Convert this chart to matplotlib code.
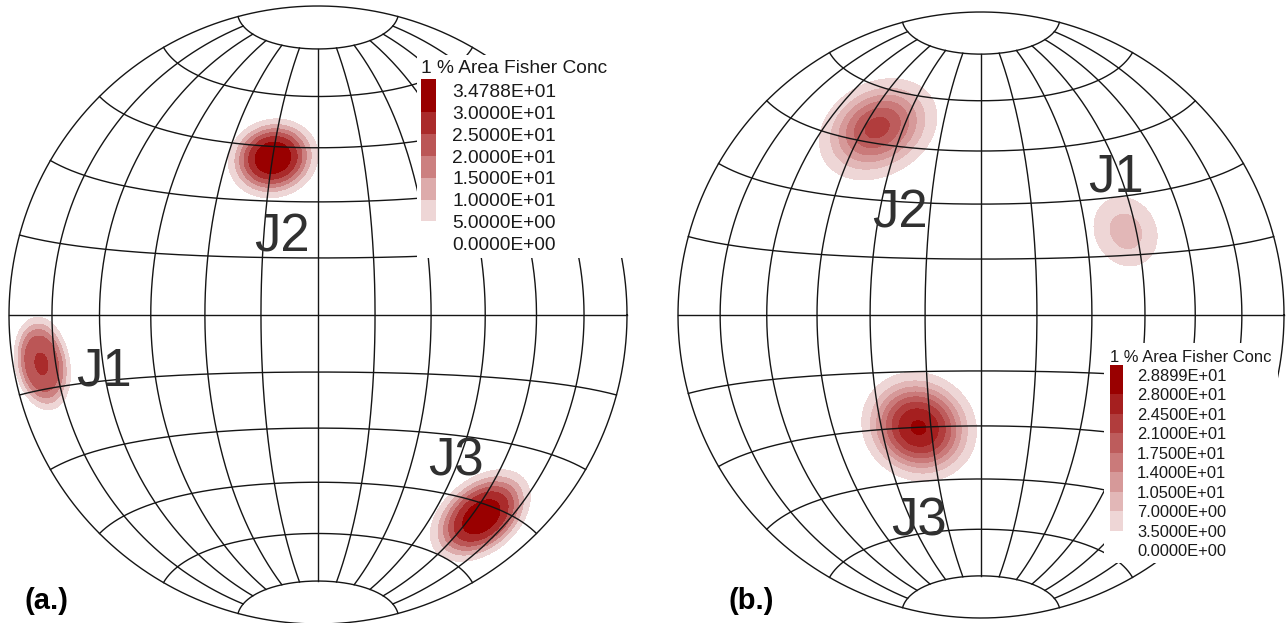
import numpy as np
import matplotlib
matplotlib.use('Agg')
import matplotlib.pyplot as plt
from matplotlib.patches import Rectangle

plt.rcParams['font.family'] = ['Liberation Sans', 'DejaVu Sans']

# niveles de las dos leyendas (de mayor a menor)
niveles_a = [34.788, 30.0, 25.0, 20.0, 15.0, 10.0, 5.0, 0.0]
niveles_b = [28.899, 28.0, 24.5, 21.0, 17.5, 14.0, 10.5, 7.0, 3.5, 0.0]

# familias de diaclasas: trend / plunge del polo medio (grados),
# amplitud, radio del escalon d0 y ancho w (grados) del nucleo
fam_a = ['J1', 'J2', 'J3']
trend_a = [260, 344, 141]
plunge_a = [10, 46, 17]
amp_a = [25.6, 35.45, 34.0]
d0_a = [7.4, 7.6, 8.5]
w_a = [1.4, 1.9, 2.0]

fam_b = ['J1', 'J2', 'J3']
trend_b = [60, 331, 209]
plunge_b = [44, 30, 55]
amp_b = [10.0, 25.0, 30.0]
d0_b = [6.9, 8.4, 9.3]
w_b = [3.0, 3.3, 2.8]

# posicion de los rotulos J (px)
pos_a = [(104, 386), (282, 251), (456, 475)]
pos_b = [(1116, 192), (900, 228), (919, 535)]


def schmidt(lon, lat):
    # red de Schmidt, aspecto ecuatorial, radio 1
    lon, lat = np.radians(lon), np.radians(lat)
    k = np.sqrt(1.0 / (1.0 + np.cos(lat) * np.cos(lon)))
    return k * np.cos(lat) * np.sin(lon), k * np.sin(lat)


def campo(x, y, trend, plunge, amp, d0, w):
    r = np.hypot(x, y)
    th = 2 * np.arcsin(np.clip(r / np.sqrt(2), 0, 1))
    az = np.arctan2(x, y)
    vx = np.sin(th) * np.sin(az)
    vy = np.sin(th) * np.cos(az)
    vz = -np.cos(th)
    z = np.zeros_like(x)
    for t, p, A, c, s in zip(trend, plunge, amp, d0, w):
        t, p = np.radians(t), np.radians(p)
        cosd = vx * np.cos(p) * np.sin(t) + vy * np.cos(p) * np.cos(t) - vz * np.sin(p)
        d = np.degrees(np.arccos(np.clip(cosd, -1, 1)))
        z += A / (1 + np.exp((d - c) / s))
    z[r > 1] = np.nan
    return z


def colores(n):
    c0 = np.array([238, 214, 214]) / 255.
    c1 = np.array([153, 0, 0]) / 255.
    return [tuple(c0 + (c1 - c0) * i / (n - 1)) for i in range(n)]


def red(ax, cx, cy, R, trend, plunge, amp, d0, w, niveles):
    g = np.linspace(-1, 1, 700)
    X, Y = np.meshgrid(g, g)
    Z = campo(X, Y, trend, plunge, amp, d0, w)
    lv = sorted(niveles)[1:-1] + [1e3]
    cols = colores(len(lv) - 1)
    ax.contourf(cx + R * X, cy - R * Y, Z, levels=lv, colors=cols, zorder=1)

    lc = '#151515'
    lw = 1.0
    for lon in range(-75, 76, 15):
        la = np.linspace(-75, 75, 200)
        x, y = schmidt(np.full_like(la, lon), la)
        ax.plot(cx + R * x, cy - R * y, color=lc, lw=lw, zorder=2)
    for lat in range(-75, 76, 15):
        lo = np.linspace(-90, 90, 300)
        x, y = schmidt(lo, np.full_like(lo, lat))
        ax.plot(cx + R * x, cy - R * y, color=lc, lw=lw, zorder=2)
    t = np.linspace(0, 2 * np.pi, 500)
    ax.plot(cx + R * np.cos(t), cy - R * np.sin(t), color=lc, lw=lw, zorder=2)
    return cols


def leyenda(ax, x0, ytit, y0, dy, niveles, cols, fs, xlab, wbar):
    off = 0.36 * fs * 100 / 72
    ax.text(x0, ytit + off, '1 % Area Fisher Conc', fontsize=fs, ha='left',
            va='baseline', color='#1a1a1a', zorder=5)
    for i, v in enumerate(niveles):
        ax.text(xlab, y0 + i * dy + off, f'{v:.4E}', fontsize=fs, ha='left',
                va='baseline', color='#1a1a1a', zorder=5)
    cols = cols[::-1]
    for j in range(len(cols)):
        top = y0 + j * dy - (0.5 * dy if j == 0 else 0)
        bot = y0 + (j + 1) * dy
        ax.add_patch(Rectangle((x0, top), wbar, bot - top, fc=cols[j],
                               ec='none', zorder=5))


fig = plt.figure(figsize=(12.87, 6.23), dpi=100)
ax = fig.add_axes([0, 0, 1, 1])
ax.set_xlim(0, 1287)
ax.set_ylim(623, 0)
ax.axis('off')

cols_a = red(ax, 318, 315, 309, trend_a, plunge_a, amp_a, d0_a, w_a, niveles_a)
cols_b = red(ax, 981, 315, 303, trend_b, plunge_b, amp_b, d0_b, w_b, niveles_b)

# fondo blanco de las leyendas
ax.add_patch(Rectangle((417, 55), 240, 203, fc='white', ec='none', zorder=3))
ax.add_patch(Rectangle((1104, 343), 174, 220, fc='white', ec='none', zorder=3))

leyenda(ax, 421, 66, 90, 21.9, niveles_a, cols_a, 13.8, 452, 15)
leyenda(ax, 1110, 356, 375, 19.45, niveles_b, cols_b, 11.9, 1137, 13)

for f, (x, y) in zip(fam_a, pos_a):
    ax.text(x, y, f, fontsize=38, ha='center', va='baseline', color='#303030', zorder=6)
for f, (x, y) in zip(fam_b, pos_b):
    ax.text(x, y, f, fontsize=38, ha='center', va='baseline', color='#303030', zorder=6)

ax.text(46, 601, '(a.)', fontsize=21, fontweight='bold', ha='center', va='center', zorder=6)
ax.text(751, 601, '(b.)', fontsize=21, fontweight='bold', ha='center', va='center', zorder=6)

fig.savefig('out.png', dpi=100)
